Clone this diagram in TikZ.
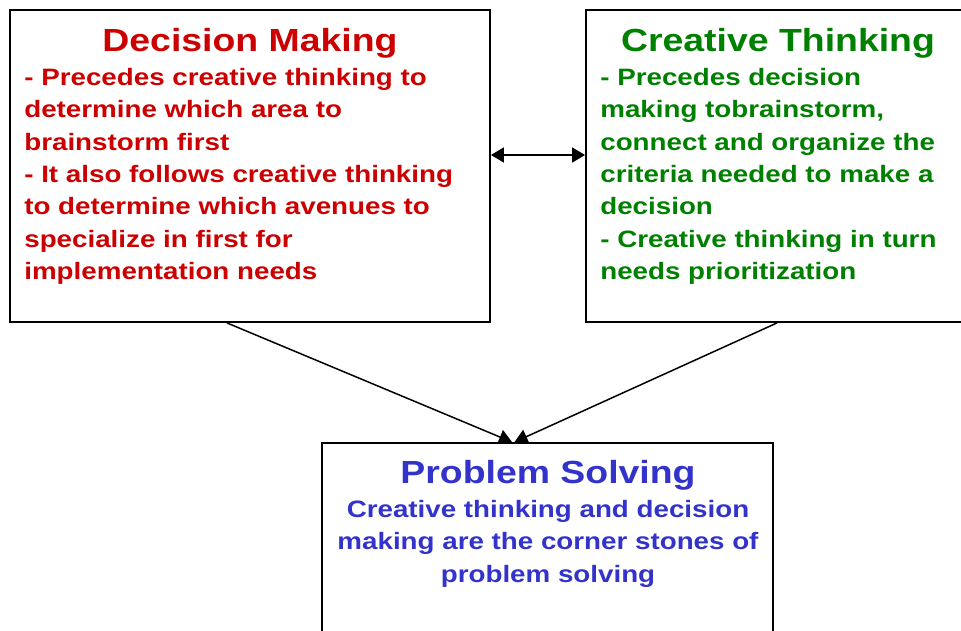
\documentclass[tikz,border=0pt]{standalone}
\usepackage{fontspec}
\setmainfont{Liberation Sans}[FakeStretch=1.17]
\usepackage{tikz}
\usetikzlibrary{arrows.meta}

\definecolor{dmred}{RGB}{204,0,0}
\definecolor{ctgreen}{RGB}{0,128,0}
\definecolor{psblue}{RGB}{51,51,204}

\begin{document}
\begin{tikzpicture}[x=0.02cm,y=-0.02cm,
    box/.style={draw,line width=1.1pt,inner sep=0pt},
    title/.style={font=\fontsize{18.2}{21}\selectfont\bfseries,anchor=base,inner sep=0pt},
    body/.style={font=\fontsize{13.5}{18.4}\selectfont\bfseries,inner sep=0pt},
    link/.style={line width=0.85pt,{Triangle[length=0.26cm,width=0.3cm]}-{Triangle[length=0.26cm,width=0.3cm]}},
    into/.style={line width=0.85pt,-{Triangle[length=0.26cm,width=0.3cm]}}]
  \useasboundingbox (0,0) rectangle (961,630);
  \clip (0,0) rectangle (961,630);

  \node[box,minimum width=9.6cm,minimum height=6.24cm]  (dm) at (250,166) {};
  \node[box,minimum width=8cm,minimum height=6.24cm]    (ct) at (786,166) {};
  \node[box,minimum width=9.02cm,minimum height=4.4cm]  (ps) at (547.5,553) {};

  % decision making
  \node[title,text=dmred] (dmt) at (250,51) {Decision Making};
  \node[body,text=dmred,anchor=north west,align=left] (dmb) at (24,68)
    {- Precedes creative thinking to\\
     determine which area to\\
     brainstorm first\\
     - It also follows creative thinking\\
     to determine which avenues to\\
     specialize in first for\\
     implementation needs};

  % creative thinking
  \node[title,text=ctgreen] (ctt) at (778,51) {Creative Thinking};
  \node[body,text=ctgreen,anchor=north west,align=left] (ctb) at (600,68)
    {- Precedes decision\\
     making tobrainstorm,\\
     connect and organize the\\
     criteria needed to make a\\
     decision\\
     - Creative thinking in turn\\
     needs prioritization};

  % problem solving
  \node[title,text=psblue] (pst) at (548,483) {Problem Solving};
  \node[body,text=psblue,anchor=north,align=center] (psb) at (548,500)
    {Creative thinking and decision\\
     making are the corner stones of\\
     problem solving};

  \draw[link] ([yshift=0.22cm]dm.east) -- ([yshift=0.22cm]ct.west);
  \draw[into] ([xshift=-0.46cm]dm.south) -- ([xshift=-0.71cm]ps.north);
  \draw[into] ([xshift=-0.18cm]ct.south) -- ([xshift=-0.66cm]ps.north);
\end{tikzpicture}
\end{document}
